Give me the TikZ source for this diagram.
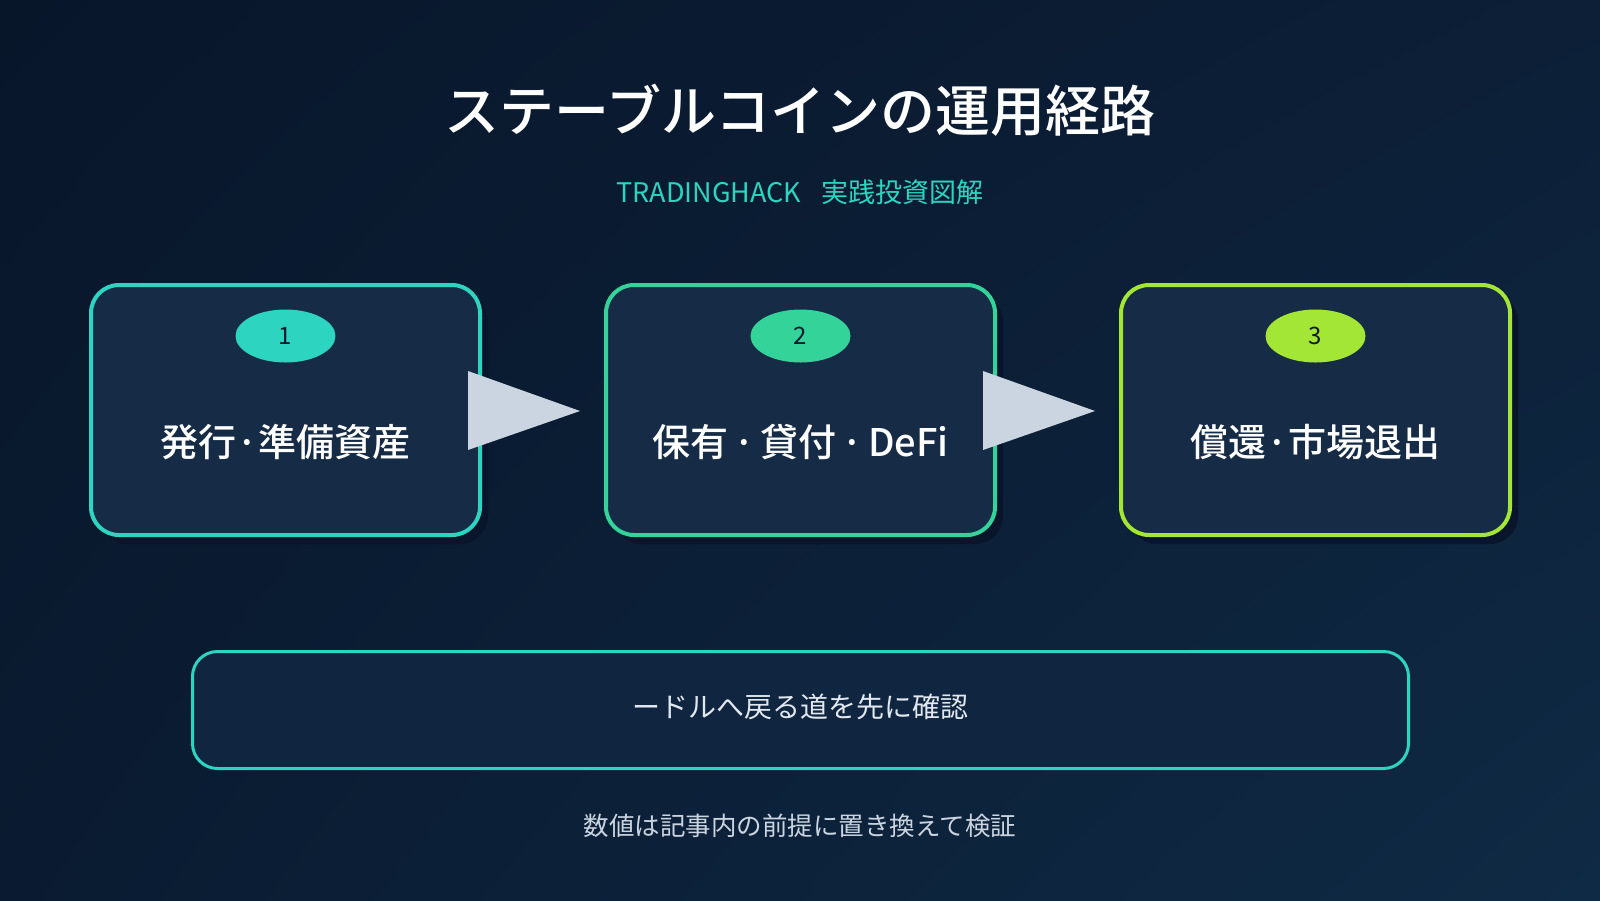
\documentclass[tikz,border=0pt]{standalone}
\usepackage{fontspec}
\setmainfont{Noto Sans CJK JP}
\newfontfamily\medfont{Noto Sans CJK JP Medium}
\usetikzlibrary{shapes.geometric, positioning, calc, shadows, shadings}

\definecolor{bgtl}{HTML}{08162A}
\definecolor{bgtr}{HTML}{0C1F37}
\definecolor{bgbl}{HTML}{0A1B31}
\definecolor{bgbr}{HTML}{0F2A45}
\definecolor{boxfill}{HTML}{162B46}
\definecolor{notefill}{HTML}{10253F}
\definecolor{shadowcol}{HTML}{09152A}
\definecolor{tealc}{HTML}{2DD4BF}
\definecolor{greenc}{HTML}{34D399}
\definecolor{limec}{HTML}{A3E635}
\definecolor{arrowc}{HTML}{CBD5E1}
\definecolor{notetext}{HTML}{E2E8F0}
\definecolor{foottext}{HTML}{CBD5E1}
\definecolor{badgetext}{HTML}{0F172A}

\tikzset{
  fs/.style={font=\fontsize{#1}{#1}\selectfont},
  stagebox/.style={draw=#1, line width=4pt, fill=boxfill, rounded corners=28pt,
    minimum width=389pt, minimum height=250pt, inner sep=0pt,
    drop shadow={shadow xshift=8pt, shadow yshift=-9pt, fill=shadowcol, opacity=1}},
  badge/.style={ellipse, fill=#1, minimum width=100pt, minimum height=53pt,
    inner sep=0pt, text=badgetext, fs=24},
  stagelabel/.style={text=white, font=\medfont\fontsize{38}{38}\selectfont},
  flowarrow/.style={fill=arrowc}
}

\begin{document}
\begin{tikzpicture}[x=1pt, y=-1pt, every node/.style={inner sep=0pt}]
  % background
  \shade[upper left=bgtl, upper right=bgtr, lower left=bgbl, lower right=bgbr]
    (0,0) rectangle (1600,900);
  \useasboundingbox (0,0) rectangle (1600,900);

  % heading
  \node[text=white, font=\medfont\fontsize{55}{55}\selectfont] (title) at (800,110)
    {ステーブルコインの運用経路};
  \node[text=tealc, fs=27] (subtitle) at (800,192) {TRADINGHACK\hspace{20pt}実践投資図解};

  % stages
  \node[stagebox=tealc] (stageA) at (285.5,410) {};
  \node[stagebox=greenc, right=122pt of stageA] (stageB) {};
  \node[stagebox=limec, right=122pt of stageB] (stageC) {};

  \node[badge=tealc] (badgeA) at ($(stageA.north)+(0,53)$) {1};
  \node[badge=greenc] (badgeB) at ($(stageB.north)+(0,53)$) {2};
  \node[badge=limec] (badgeC) at ($(stageC.north)+(0,53)$) {3};

  \node[stagelabel] (labelA) at ($(stageA.center)+(0,32)$) {発行·準備資産};
  \node[stagelabel] (labelB) at ($(stageB.center)+(0,32)$)
    {保有\hspace{5pt}·\hspace{5pt}貸付\hspace{5pt}·\hspace{5pt}DeFi};
  \node[stagelabel] (labelC) at ($(stageC.center)+(0,32)$) {償還·市場退出};

  % arrows between stages
  \fill[flowarrow] ($(stageA.east)+(-14,-39)$) -- ($(stageA.east)+(98,1)$)
    -- ($(stageA.east)+(-14,40)$) -- cycle;
  \fill[flowarrow] ($(stageB.east)+(-14,-39)$) -- ($(stageB.east)+(98,1)$)
    -- ($(stageB.east)+(-14,40)$) -- cycle;

  % note
  \node[draw=tealc, line width=3pt, fill=notefill, rounded corners=25pt,
    minimum width=1216pt, minimum height=117pt] (note) at (800.5,710) {};
  \node[text=notetext, fs=28] (notelabel) at (800,707) {ードルへ戻る道を先に確認};

  \node[text=foottext, fs=25.5] (footnote) at (800,826) {数値は記事内の前提に置き換えて検証};
\end{tikzpicture}
\end{document}
